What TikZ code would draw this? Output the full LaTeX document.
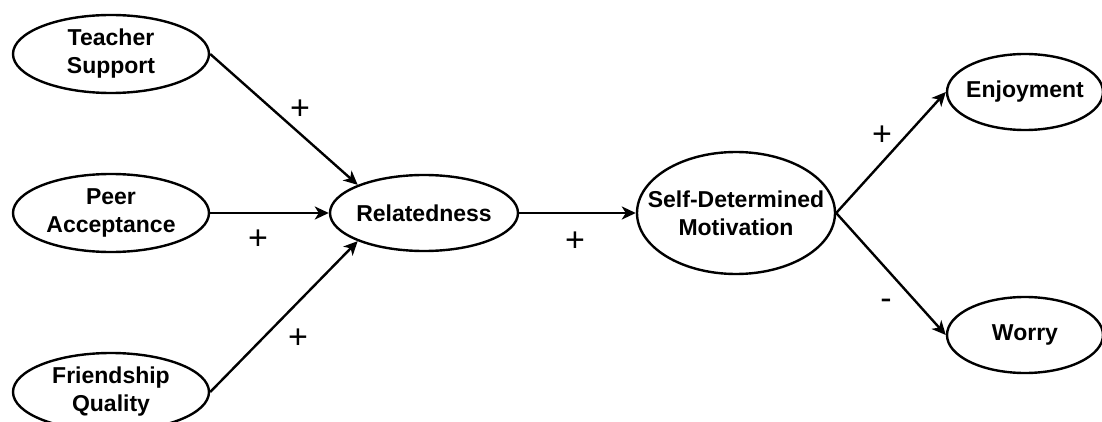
\documentclass[tikz,border=0pt]{standalone}
\usepackage{fontspec}
\setmainfont{Liberation Sans}
\usetikzlibrary{shapes.geometric,arrows.meta}
\begin{document}
\begin{tikzpicture}[x=1pt, y=-1pt, line width=2.4pt]

    \tikzset{varstyle/.style={draw,shape=ellipse,inner xsep=-22pt,inner ysep=0pt,align=center,
        font=\bfseries\fontsize{23}{28}\selectfont}}
    \tikzset{signstyle/.style={font=\fontsize{34}{40}\selectfont}}
    \useasboundingbox (0,0) rectangle (1102,422);

    \node[varstyle,minimum width=196pt,minimum height=78pt] (ts) at ( 111, 54) {Teacher\\Support};
    \node[varstyle,minimum width=196pt,minimum height=78pt] (pa) at ( 111, 213) {Peer\\Acceptance};
    \node[varstyle,minimum width=196pt,minimum height=78pt] (fq) at ( 111, 392) {Friendship\\Quality};

    \node[varstyle,minimum width=188pt,minimum height=76pt] (rel) at ( 424, 213) {Relatedness};
    \node[varstyle,minimum width=198pt,minimum height=122pt] (sdm) at ( 736, 213) {Self-Determined\\Motivation};

    \node[varstyle,minimum width=156pt,minimum height=76pt] (enj) at ( 1025, 92) {Enjoyment};
    \node[varstyle,minimum width=156pt,minimum height=76pt] (wor) at ( 1025, 335) {Worry};

    \begin{scope}[every path/.style={-{Stealth[length=14pt,width=13pt,inset=4pt]}}]
        \draw (ts.east) -- (rel.157);
        \draw (pa.east) -- (rel.west);
        \draw (fq.east) -- (rel.203);

        \draw (rel.east) -- (sdm.west);

        \draw (sdm.east) -- (enj.west);
        \draw (sdm.east) -- (wor.west);
    \end{scope}

    % Signos de los efectos.
    \node[signstyle] (s1) at ( 300, 110) {+};
    \node[signstyle] (s2) at ( 258, 240) {+};
    \node[signstyle] (s3) at ( 298, 339) {+};
    \node[signstyle] (s4) at ( 575, 242) {+};
    \node[signstyle] (s5) at ( 882, 136) {+};
    \node[signstyle] (s6) at ( 886, 304) {-};

\end{tikzpicture}
\end{document}
